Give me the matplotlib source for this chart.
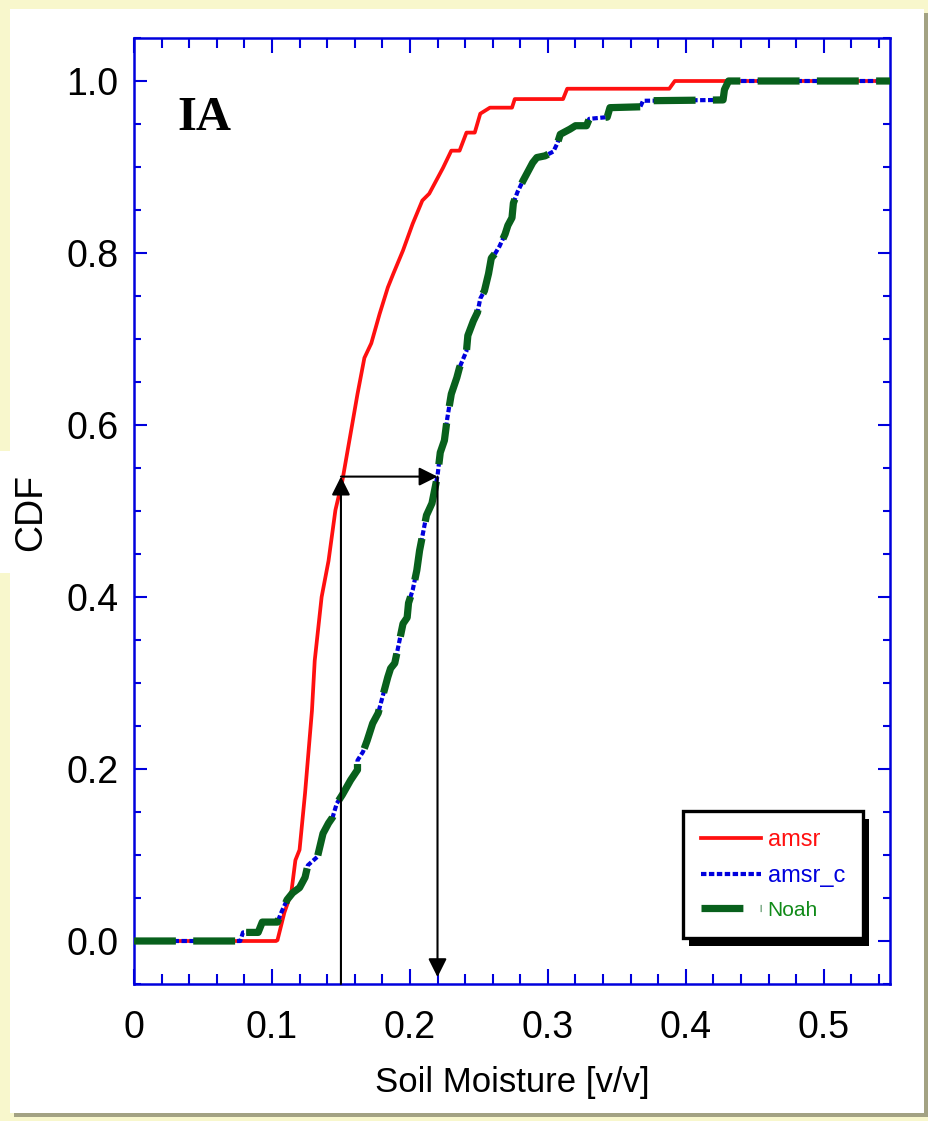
import matplotlib
matplotlib.use("Agg")
import matplotlib.pyplot as plt
from matplotlib.patches import Rectangle
from matplotlib.ticker import MultipleLocator, FixedLocator

plt.rcParams['font.family'] = ['Liberation Sans', 'DejaVu Sans']

# CDF of raw AMSR soil moisture
amsr_x = [0, 0.103, 0.104, 0.109, 0.114, 0.117, 0.120, 0.124, 0.129, 0.131,
          0.136, 0.141, 0.146, 0.151, 0.157, 0.162, 0.167, 0.172, 0.178, 0.184,
          0.188, 0.195, 0.202, 0.209, 0.214, 0.224, 0.230, 0.236, 0.241, 0.247,
          0.251, 0.258, 0.274, 0.276, 0.311, 0.314, 0.388, 0.392, 0.55]
amsr_y = [0, 0, 0.001, 0.033, 0.056, 0.094, 0.106, 0.172, 0.268, 0.326,
          0.400, 0.442, 0.501, 0.535, 0.590, 0.636, 0.678, 0.695, 0.729, 0.760,
          0.776, 0.803, 0.834, 0.861, 0.869, 0.899, 0.919, 0.919, 0.940, 0.940,
          0.962, 0.969, 0.969, 0.979, 0.979, 0.991, 0.991, 1.0, 1.0]

# CDF of Noah soil moisture
noah_x = [0, 0.077, 0.079, 0.090, 0.093, 0.104, 0.107, 0.111, 0.115, 0.120,
          0.124, 0.126, 0.133, 0.137, 0.141, 0.144, 0.147, 0.151, 0.157, 0.162,
          0.162, 0.166, 0.169, 0.173, 0.177, 0.180, 0.184, 0.186, 0.189, 0.191,
          0.195, 0.198, 0.199, 0.202, 0.205, 0.207, 0.212, 0.216, 0.220, 0.222,
          0.225, 0.227, 0.230, 0.234, 0.236, 0.241, 0.242, 0.246, 0.249, 0.251,
          0.254, 0.257, 0.259, 0.262, 0.265, 0.269, 0.271, 0.274, 0.275, 0.278,
          0.282, 0.286, 0.289, 0.292, 0.298, 0.304, 0.307, 0.309, 0.316, 0.320,
          0.328, 0.330, 0.343, 0.345, 0.367, 0.369, 0.427, 0.428, 0.431, 0.55]
noah_y = [0, 0, 0.010, 0.010, 0.022, 0.022, 0.034, 0.048, 0.056, 0.062,
          0.074, 0.088, 0.098, 0.125, 0.137, 0.144, 0.160, 0.170, 0.187, 0.199,
          0.210, 0.220, 0.233, 0.253, 0.265, 0.283, 0.307, 0.317, 0.323, 0.338,
          0.369, 0.376, 0.393, 0.408, 0.431, 0.454, 0.495, 0.509, 0.541, 0.568,
          0.582, 0.607, 0.636, 0.655, 0.667, 0.686, 0.704, 0.721, 0.731, 0.747,
          0.756, 0.776, 0.794, 0.800, 0.808, 0.822, 0.832, 0.841, 0.858, 0.871,
          0.884, 0.896, 0.905, 0.911, 0.913, 0.918, 0.928, 0.938, 0.944, 0.948,
          0.948, 0.956, 0.958, 0.969, 0.970, 0.977, 0.978, 0.990, 1.0, 1.0]

# corrected AMSR is CDF-matched to Noah, so it sits on the same curve
amsr_c_x = list(noah_x)
amsr_c_y = list(noah_y)

# example lookup: amsr value -> matched value at the same CDF level
lookup_x = [0.15, 0.22]
lookup_cdf = 0.54

x_ticks = [0, 0.1, 0.2, 0.3, 0.4, 0.5]
x_labels = ['0', '0.1', '0.2', '0.3', '0.4', '0.5']
y_ticks = [0.0, 0.2, 0.4, 0.6, 0.8, 1.0]
y_labels = ['0.0', '0.2', '0.4', '0.6', '0.8', '1.0']

blue = '#0000dd'

fig = plt.figure(figsize=(9.29, 11.21), dpi=100, facecolor='#f8f7cc')
# framed white panel with shadow
fig.patches.append(Rectangle((14 / 929, 1 - 1117 / 1121), 914 / 929, 1104 / 1121,
                             transform=fig.transFigure, facecolor='#a3a283',
                             edgecolor='none', zorder=-3))
fig.patches.append(Rectangle((10 / 929, 1 - 1113 / 1121), 914 / 929, 1104 / 1121,
                             transform=fig.transFigure, facecolor='white',
                             edgecolor='none', zorder=-2))

ax = fig.add_axes([134 / 929, 1 - 984 / 1121, 756 / 929, 946 / 1121])
ax.set_facecolor('white')

ax.plot(amsr_x, amsr_y, color='#ff1010', lw=2.7, label='amsr', zorder=2)
ax.plot(amsr_c_x, amsr_c_y, color=blue, lw=3.0, dashes=(1.3, 0.6),
        label='amsr_c', zorder=3)
ax.plot(noah_x, noah_y, color='#08601c', lw=5.2, dashes=(5.8, 2.4),
        label='Noah', zorder=4)

ax.set_xlim(0, 0.548)
ax.set_ylim(-0.05, 1.05)

# lookup arrows
arrow_kw = dict(arrowstyle='-|>,head_length=0.4,head_width=0.2', color='black',
                lw=1.5, shrinkA=0, shrinkB=0, mutation_scale=28)
ax.annotate('', xy=(lookup_x[0], lookup_cdf), xytext=(lookup_x[0], -0.05),
            arrowprops=arrow_kw, zorder=5)
ax.annotate('', xy=(lookup_x[1], lookup_cdf), xytext=(lookup_x[0], lookup_cdf),
            arrowprops=arrow_kw, zorder=5)
ax.annotate('', xy=(lookup_x[1], -0.042), xytext=(lookup_x[1], lookup_cdf),
            arrowprops=arrow_kw, zorder=5)

ax.xaxis.set_major_locator(FixedLocator(x_ticks))
ax.set_xticklabels(x_labels)
ax.xaxis.set_minor_locator(MultipleLocator(0.02))
ax.yaxis.set_major_locator(FixedLocator(y_ticks))
ax.set_yticklabels(y_labels)
ax.yaxis.set_minor_locator(MultipleLocator(0.05))

for s in ax.spines.values():
    s.set_color(blue)
    s.set_linewidth(1.8)
ax.tick_params(which='both', direction='in', top=True, right=True, color=blue,
               width=1.5, labelsize=27)
ax.tick_params(axis='x', which='major', length=11, pad=19)
ax.tick_params(axis='x', which='minor', length=7)
ax.tick_params(axis='y', which='major', length=9, pad=11)
ax.tick_params(axis='y', which='minor', length=5)

ax.set_xlabel('Soil Moisture [v/v]', fontsize=25, labelpad=14)
fig.text(31 / 929, 1 - 512 / 1121, 'CDF', rotation=90, fontsize=27,
         ha='center', va='center',
         bbox=dict(facecolor='white', edgecolor='none', pad=16))

ax.text(0.057, 0.903, 'IA', transform=ax.transAxes, fontsize=35,
        fontweight='bold', family=['Liberation Serif', 'DejaVu Serif'],
        va='baseline')

leg = ax.legend(loc='lower right', bbox_to_anchor=(0.964, 0.0486),
                borderaxespad=0, fancybox=False, edgecolor='black',
                framealpha=1, fontsize=16, handlelength=2.7,
                handletextpad=0.3, labelspacing=0.62, borderpad=0.8)
leg.get_frame().set_linewidth(2.4)
leg.set_zorder(10)
for txt, col, size in zip(leg.get_texts(), ['#ff1010', blue, '#108a18'],
                          [17, 17, 15]):
    txt.set_color(col)
    txt.set_fontsize(size)

# hard black drop shadow behind the legend box
fig.canvas.draw()
bb = leg.get_window_extent().transformed(ax.transAxes.inverted())
ax.add_patch(Rectangle((bb.x0 + 6 / 756, bb.y0 - 8 / 946), bb.width, bb.height,
                       transform=ax.transAxes, facecolor='black',
                       edgecolor='none', zorder=9))

fig.savefig('out.png', dpi=100, facecolor=fig.get_facecolor())
